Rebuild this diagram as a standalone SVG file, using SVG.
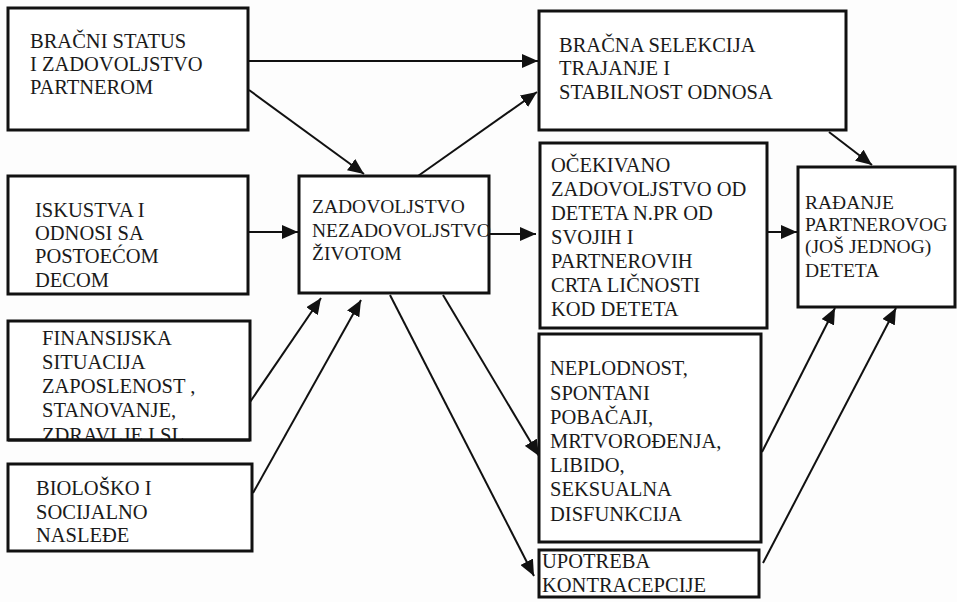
<svg xmlns="http://www.w3.org/2000/svg" width="957" height="602" viewBox="0 0 957 602" font-family="Liberation Serif, DejaVu Serif, serif">
<defs>
<style>
.box{fill:#fff;stroke:#111;stroke-width:3}
text{font-family:"Liberation Serif","DejaVu Serif",serif;fill:#1a1a1a}
.t{font-size:20.5px}
.t2{font-size:19.5px}
.c{fill:none;stroke:#111;stroke-width:2}
</style>
<marker id="ah" markerUnits="userSpaceOnUse" markerWidth="18" markerHeight="14" refX="16" refY="7" orient="auto">
<path d="M0,0 L16,7 L0,14 Z" fill="#111"/>
</marker>
<clipPath id="clipFin"><rect x="8" y="321" width="242" height="118"/></clipPath>
</defs>
<rect width="957" height="602" fill="#fdfdfd"/>

<g id="connectors">
<line class="c" x1="249" y1="61" x2="538" y2="61" marker-end="url(#ah)"/>
<line class="c" x1="249" y1="90" x2="364" y2="174" marker-end="url(#ah)"/>
<line class="c" x1="249" y1="232" x2="298" y2="232" marker-end="url(#ah)"/>
<line class="c" x1="250" y1="402" x2="321" y2="298" marker-end="url(#ah)"/>
<line class="c" x1="253" y1="493" x2="361" y2="300" marker-end="url(#ah)"/>
<line class="c" x1="418" y1="176" x2="537" y2="92" marker-end="url(#ah)"/>
<line class="c" x1="490" y1="234" x2="536" y2="234" marker-end="url(#ah)"/>
<line class="c" x1="443" y1="295" x2="539" y2="456" marker-end="url(#ah)"/>
<line class="c" x1="390" y1="295" x2="534" y2="576" marker-end="url(#ah)"/>
<line class="c" x1="829" y1="132" x2="872" y2="165" marker-end="url(#ah)"/>
<line class="c" x1="768" y1="232" x2="797" y2="232" marker-end="url(#ah)"/>
<line class="c" x1="762" y1="452" x2="835" y2="308" marker-end="url(#ah)"/>
<line class="c" x1="763" y1="563" x2="896" y2="308" marker-end="url(#ah)"/>
</g>

<g id="n-bracni-status">
<rect class="box" x="8" y="8" width="240" height="122"/>
<text class="t" x="30" y="48">BRAČNI STATUS</text>
<text class="t" x="30" y="71">I ZADOVOLJSTVO</text>
<text class="t" x="30" y="94">PARTNEROM</text>
</g>

<g id="n-iskustva">
<rect class="box" x="8" y="176" width="240" height="118"/>
<text class="t" x="35" y="217">ISKUSTVA I</text>
<text class="t" x="35" y="240">ODNOSI SA</text>
<text class="t" x="35" y="263">POSTOEĆOM</text>
<text class="t" x="35" y="287">DECOM</text>
</g>

<g id="n-finansijska">
<rect class="box" x="8" y="321" width="242" height="119"/>
<g clip-path="url(#clipFin)">
<text class="t" x="42" y="345">FINANSIJSKA</text>
<text class="t" x="42" y="369">SITUACIJA</text>
<text class="t" x="42" y="393">ZAPOSLENOST ,</text>
<text class="t" x="42" y="417">STANOVANJE,</text>
<text class="t" x="42" y="442">ZDRAVLJE I SL.</text>
</g>
<line x1="8" y1="440" x2="250" y2="440" stroke="#111" stroke-width="3"/>
</g>

<g id="n-bilosko">
<rect class="box" x="8" y="464" width="244" height="87"/>
<text class="t" x="36" y="495">BIOLOŠKO I</text>
<text class="t" x="36" y="519">SOCIJALNO</text>
<text class="t" x="36" y="542">NASLEĐE</text>
</g>

<g id="n-zadovoljstvo">
<rect class="box" x="299" y="176" width="190" height="117"/>
<text class="t2" x="312" y="213">ZADOVOLJSTVO</text>
<text class="t2" x="312" y="237">NEZADOVOLJSTVO</text>
<text class="t2" x="312" y="260">ŽIVOTOM</text>
</g>

<g id="n-bracna-selekcija">
<rect class="box" x="539" y="11" width="307" height="119"/>
<text class="t" x="559" y="52">BRAČNA SELEKCIJA</text>
<text class="t" x="559" y="75">TRAJANJE I</text>
<text class="t" x="559" y="99">STABILNOST ODNOSA</text>
</g>

<g id="n-ocekivano">
<rect class="box" x="540" y="143" width="227" height="185"/>
<text class="t" x="551" y="172">OČEKIVANO</text>
<text class="t" x="551" y="196">ZADOVOLJSTVO OD</text>
<text class="t" x="551" y="220">DETETA N.PR OD</text>
<text class="t" x="551" y="244">SVOJIH I</text>
<text class="t" x="551" y="268">PARTNEROVIH</text>
<text class="t" x="551" y="292">CRTA LIČNOSTI</text>
<text class="t" x="551" y="316">KOD DETETA</text>
</g>

<g id="n-radjanje">
<rect class="box" x="798" y="167" width="157" height="140"/>
<text class="t2" x="805" y="209">RAĐANJE</text>
<text class="t2" x="805" y="231">PARTNEROVOG</text>
<text class="t2" x="805" y="253">(JOŠ JEDNOG)</text>
<text class="t2" x="805" y="277">DETETA</text>
</g>

<g id="n-neplodnost">
<rect class="box" x="539" y="334" width="222" height="208"/>
<text class="t" x="550" y="375">NEPLODNOST,</text>
<text class="t" x="550" y="400">SPONTANI</text>
<text class="t" x="550" y="424">POBAČAJI,</text>
<text class="t" x="550" y="448">MRTVOROĐENJA,</text>
<text class="t" x="550" y="472">LIBIDO,</text>
<text class="t" x="550" y="496">SEKSUALNA</text>
<text class="t" x="550" y="521">DISFUNKCIJA</text>
</g>

<g id="n-upotreba">
<rect class="box" x="539" y="550" width="220" height="47"/>
<text class="t" x="542" y="568">UPOTREBA</text>
<text class="t" x="542" y="592">KONTRACEPCIJE</text>
</g>
</svg>
